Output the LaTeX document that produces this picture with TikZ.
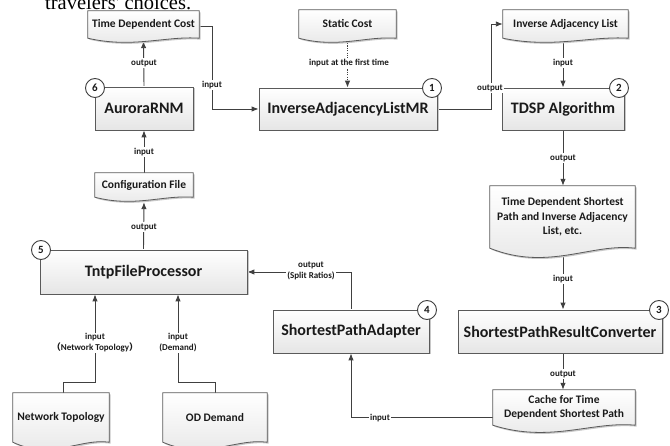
\documentclass[tikz,border=0pt]{standalone}
\usepackage{fontspec}
\setmainfont{Carlito}
\newfontfamily\titleserif{Liberation Serif}
\newfontfamily\cjkparen{Noto Sans CJK SC}
\usetikzlibrary{arrows.meta,shadows,calc}

\definecolor{linec}{HTML}{404040}
\definecolor{edgec}{HTML}{5A5A5A}
\definecolor{shadowc}{HTML}{C8C8C8}
\definecolor{inkc}{HTML}{1A1A1A}

\pgfdeclarelayer{lines}
\pgfdeclarelayer{docs}
\pgfsetlayers{lines,docs,main}

\tikzset{
  conn/.style={draw=linec, line width=0.9pt},
  arr/.style={conn, -{Latex[length=7pt,width=5.5pt]}},
  dotarr/.style={arr, dash pattern=on 1.2pt off 1.2pt},
  procbox/.style={draw=edgec, line width=0.8pt, top color=white, bottom color=black!10,
    minimum height=43pt, inner sep=0pt, text=inkc,
    font=\fontsize{16}{19}\selectfont\bfseries,
    drop shadow={shadow xshift=1.5pt, shadow yshift=-1.5pt, fill=shadowc, opacity=1}},
  docarea/.style={inner sep=0pt, align=center, text=inkc,
    font=\fontsize{11.5}{14.5}\selectfont\bfseries},
  docskin/.style={draw=edgec, line width=0.8pt, top color=white, bottom color=black!10},
  elabel/.style={fill=white, inner sep=1pt, align=center, text=inkc,
    font=\fontsize{9}{11}\selectfont\bfseries},
  stepnum/.style={circle, draw=linec, line width=0.9pt, fill=white, minimum size=19pt,
    inner sep=0pt, text=inkc, font=\fontsize{11}{12}\selectfont\bfseries},
}

% outline of a "document" symbol: rectangle with a wavy bottom edge
\newcommand\docoutline[2]{(#1.north west) -- (#1.north east) -- (#1.south east)
  .. controls ($(#1.south west)!0.7!(#1.south east)+(0,-0.3*#2)$)
  and ($(#1.south west)!0.4!(#1.south east)+(0,1.3*#2)$) .. (#1.south west) -- cycle}
\newcommand\drawdoc[2]{%
  \fill[shadowc, transform canvas={xshift=1.5pt, yshift=-1.5pt}] \docoutline{#1}{#2};
  \path[docskin] \docoutline{#1}{#2};}

\begin{document}
\begin{tikzpicture}[x=1pt,y=-1pt]
\useasboundingbox (0,0) rectangle (670,446);
\clip (0,0) rectangle (670,446);

% running text above the figure
\node[anchor=base west, inner sep=0pt, text=black,
      font=\titleserif\fontsize{20.5}{24}\selectfont] (caption) at (45,10) {travelers' choices.};

% documents
\node[docarea, minimum width=111pt, minimum height=27pt] (tdc) at (143.5,24.5) {Time Dependent Cost};
\node[docarea, minimum width=97pt, minimum height=28pt] (static) at (347.5,24) {Static Cost};
\node[docarea, minimum width=125pt, minimum height=28pt] (ial) at (565.5,24) {Inverse Adjacency List};
\node[docarea, minimum width=145pt, minimum height=62pt] (tdspial) at (562.5,217)
  {Time Dependent Shortest\\Path and Inverse Adjacency\\List, etc.};
\node[docarea, minimum width=98pt, minimum height=24pt] (cfg) at (144,185) {Configuration File};
\node[docarea, minimum width=142pt, minimum height=35pt] (cache) at (564,407.5)
  {Cache for Time\\Dependent Shortest Path};
\node[docarea, minimum width=96pt, minimum height=49pt] (nt) at (61,417.5) {Network Topology};
\node[docarea, minimum width=104pt, minimum height=49pt] (od) at (215,417.5) {OD Demand};

\begin{pgfonlayer}{docs}
  \drawdoc{tdc}{8}
  \drawdoc{static}{8}
  \drawdoc{ial}{8}
  \drawdoc{tdspial}{18}
  \drawdoc{cfg}{8}
  \drawdoc{cache}{14}
  \drawdoc{nt}{14}
  \drawdoc{od}{14}
\end{pgfonlayer}

% processing steps
\node[procbox, minimum width=98pt] (aur) at (144,108.5) {AuroraRNM};
\node[procbox, minimum width=178pt, minimum height=42pt] (ialmr) at (348,109) {InverseAdjacencyListMR};
\node[procbox, minimum width=122pt, minimum height=42pt] (tdsp) at (563,109) {TDSP Algorithm};
\node[procbox, minimum width=204pt] (sprc) at (560,331.5) {ShortestPathResultConverter};
\node[procbox, minimum width=156pt] (spa) at (351,331.5) {ShortestPathAdapter};
\node[procbox, minimum width=207pt, minimum height=44pt] (tntp) at (143.5,272) {TntpFileProcessor};

% step numbers
\node[stepnum] (c1) at (432,88) {1};
\node[stepnum] (c2) at (619,88) {2};
\node[stepnum] (c3) at (659,310) {3};
\node[stepnum] (c4) at (427,310) {4};
\node[stepnum] (c5) at (41,250) {5};
\node[stepnum] (c6) at (95,88) {6};

% turning points
\coordinate (tdcout) at ($(tdc.east)+(0,2)$);
\coordinate (k1) at (212,0);
\coordinate (k2) at (491,0);
\coordinate (cachein) at ($(cache.west)+(0,10)$);
\coordinate (ntj) at (95,382);
\coordinate (odj) at (178,382);

\begin{pgfonlayer}{lines}
  \draw[arr] (tdcout) -| (k1 |- ialmr.west) -- (ialmr.west);
  \draw[dotarr] (static.south) -- (static.south |- ialmr.north);
  \draw[arr] (ialmr.east) -| (k2 |- ial.west) -- (ial.west);
  \draw[arr] (ial.south -| tdsp.north) -- (tdsp.north);
  \draw[arr] (tdsp.south) -- (tdsp.south |- tdspial.north);
  \draw[arr] (tdspial.south -| tdsp.south) -- (tdsp.south |- sprc.north);
  \draw[arr] (tdsp.south |- sprc.south) -- (tdsp.south |- cache.north);
  \draw[arr] (cachein) -| (spa.south);
  \draw[arr] (spa.north) |- (tntp.east);
  \draw[arr] ($(nt.north)+(2,0)$) |- (ntj) -- (ntj |- tntp.south);
  \draw[arr] (od.north) |- (odj) -- (odj |- tntp.south);
  \draw[arr] (tntp.north) -- ($(cfg.south)+(0,5)$);
  \draw[arr] (cfg.north) -- (aur.south);
  \draw[arr] (aur.north) -- ($(tdc.south)+(0,3)$);
\end{pgfonlayer}

% connector labels
\node[elabel] (l1) at (212,85) {input};
\node[elabel] (l2) at (144,63) {output};
\node[elabel] (l3) at (349,63) {input at the first time};
\node[elabel] (l4) at (490,88) {output};
\node[elabel] (l5) at (563,63) {input};
\node[elabel] (l6) at (563,158) {output};
\node[elabel] (l7) at (563,279) {input};
\node[elabel] (l8) at (563,374) {output};
\node[elabel] (l9) at (380,418) {input};
\node[elabel] (l10) at (311,271) {output\\(Split Ratios)};
\node[elabel] (l11) at (144,227) {output};
\node[elabel] (l12) at (144,152) {input};
\node[elabel] (l13) at (95,343) {input\\{\cjkparen （}Network Topology{\cjkparen ）}};
\node[elabel] (l14) at (178,343) {input\\(Demand)};
\end{tikzpicture}
\end{document}
